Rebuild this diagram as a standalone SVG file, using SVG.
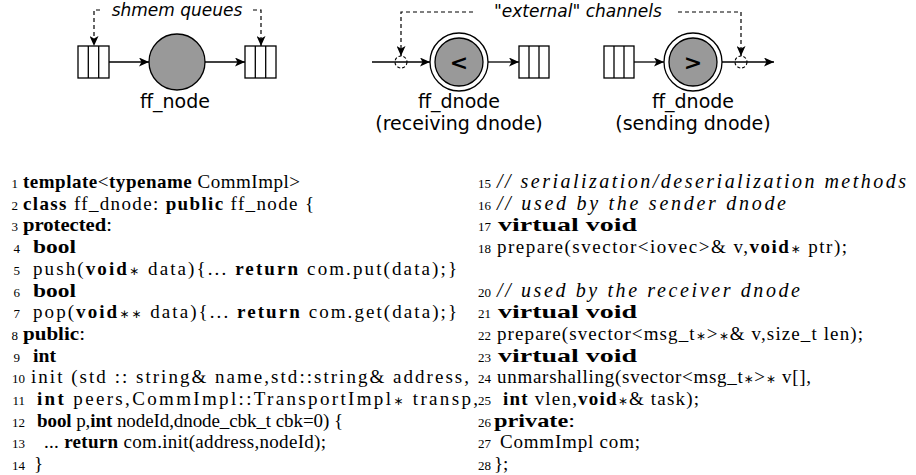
<svg xmlns="http://www.w3.org/2000/svg" width="916" height="475" viewBox="0 0 916 475">
<style>
.ln{fill:none;stroke:#000;stroke-width:1.3}
.dash{fill:none;stroke:#000;stroke-width:1.2;stroke-dasharray:4,3}
.q{fill:#fff;stroke:#000;stroke-width:1.3}
.node{fill:#999;stroke:#000;stroke-width:1.3}
.ring{fill:#fff;stroke:#000;stroke-width:1.3}
.port{fill:none;stroke:#000;stroke-width:1.1;stroke-dasharray:3,2}
.lbl{font-family:"DejaVu Sans",sans-serif;font-size:19px;fill:#000;text-anchor:middle}
.it{font-family:"DejaVu Sans",sans-serif;font-size:17px;font-style:italic;fill:#000}
.sym{font-family:"DejaVu Sans",sans-serif;font-size:22px;font-weight:bold;fill:#000;text-anchor:middle}
.code{font-family:"Liberation Serif","Times New Roman",serif;font-size:19px;fill:#000}
.cm{font-family:"Liberation Serif","Times New Roman",serif;font-size:20px;font-style:italic;fill:#000}
.num{font-family:"Liberation Serif","Times New Roman",serif;font-size:13px;fill:#000;text-anchor:end}
.b{font-weight:bold}
.ast{font-family:"DejaVu Sans",sans-serif;font-size:12px;font-weight:normal}
</style>
<defs>
<marker id="ah" markerWidth="11" markerHeight="9" refX="10" refY="4.5" orient="auto" markerUnits="userSpaceOnUse">
<path d="M0,0 L10,4.5 L0,9 L2.5,4.5 z" fill="#000"/>
</marker>
</defs>

<g id="connectors">
<path class="ln" d="M109,62 H149" marker-end="url(#ah)"/>
<path class="ln" d="M205,62 H245" marker-end="url(#ah)"/>
<path class="dash" d="M100,10 H94 V46" marker-end="url(#ah)"/>
<path class="dash" d="M253,10 H261 V46" marker-end="url(#ah)"/>
<path class="ln" d="M372,62 H430" marker-end="url(#ah)"/>
<path class="ln" d="M488,62 H519" marker-end="url(#ah)"/>
<path class="dash" d="M473,12 H401 V56" marker-end="url(#ah)"/>
<path class="ln" d="M633,62 H664" marker-end="url(#ah)"/>
<path class="ln" d="M722,62 H774" marker-end="url(#ah)"/>
<path class="dash" d="M678,12 H741 V56" marker-end="url(#ah)"/>
</g>

<g id="queue-in">
<rect class="q" x="78" y="46" width="31" height="32"/>
<path class="ln" d="M88.3,46 V78 M98.7,46 V78"/>
</g>
<g id="ff-node">
<circle class="node" cx="177" cy="62" r="28"/>
<text class="lbl" x="175" y="108">ff_node</text>
</g>
<g id="queue-out">
<rect class="q" x="245" y="46" width="31" height="32"/>
<path class="ln" d="M255.3,46 V78 M265.7,46 V78"/>
</g>
<g id="shmem-label">
<text class="it" x="177" y="16" text-anchor="middle">shmem queues</text>
</g>

<g id="recv-port">
<circle class="port" cx="401" cy="62" r="6"/>
</g>
<g id="recv-dnode">
<circle class="ring" cx="459" cy="62" r="29"/>
<circle class="node" cx="459" cy="62" r="24"/>
<text class="sym" x="459" y="70">&lt;</text>
<text class="lbl" x="459" y="108">ff_dnode</text>
<text class="lbl" x="459" y="130">(receiving dnode)</text>
</g>
<g id="recv-queue">
<rect class="q" x="519" y="46" width="30" height="32"/>
<path class="ln" d="M529,46 V78 M539,46 V78"/>
</g>
<g id="external-label">
<text x="494" y="17" style="font-family:'DejaVu Sans',sans-serif;font-size:17px;fill:#000">"<tspan font-style="italic">external</tspan>" <tspan font-style="italic">channels</tspan></text>
</g>
<g id="send-queue">
<rect class="q" x="604" y="46" width="30" height="32"/>
<path class="ln" d="M614,46 V78 M624,46 V78"/>
</g>
<g id="send-dnode">
<circle class="ring" cx="693" cy="62" r="29"/>
<circle class="node" cx="693" cy="62" r="24"/>
<text class="sym" x="693" y="70">&gt;</text>
<text class="lbl" x="693" y="108">ff_dnode</text>
<text class="lbl" x="693" y="130">(sending dnode)</text>
</g>
<g id="send-port">
<circle class="port" cx="741" cy="62" r="6"/>
</g>

<g id="code-left">
<text class="num" x="18" y="188">1</text>
<text class="code" x="23" y="188" textLength="277" lengthAdjust="spacing"><tspan class="b">template</tspan>&lt;<tspan class="b">typename</tspan> CommImpl&gt;</text>
<text class="num" x="18" y="209.7">2</text>
<text class="code" x="23" y="209.7" textLength="291" lengthAdjust="spacing"><tspan class="b">class</tspan> ff_dnode:  <tspan class="b">public</tspan> ff_node {</text>
<text class="num" x="18" y="231.4">3</text>
<text class="code" x="23" y="231.4" textLength="89" lengthAdjust="spacingAndGlyphs"><tspan class="b">protected</tspan>:</text>
<text class="num" x="20" y="253.1">4</text>
<text class="code b" x="33" y="253.1" textLength="43" lengthAdjust="spacingAndGlyphs">bool</text>
<text class="num" x="20" y="274.8">5</text>
<text class="code" x="33" y="274.8" textLength="424" lengthAdjust="spacing">push(<tspan class="b">void</tspan><tspan class="ast">∗</tspan> data){... <tspan class="b">return</tspan> com.put(data);}</text>
<text class="num" x="20" y="296.5">6</text>
<text class="code b" x="33" y="296.5" textLength="43" lengthAdjust="spacingAndGlyphs">bool</text>
<text class="num" x="20" y="318.2">7</text>
<text class="code" x="33" y="318.2" textLength="424" lengthAdjust="spacing">pop(<tspan class="b">void</tspan><tspan class="ast">∗∗</tspan> data){... <tspan class="b">return</tspan> com.get(data);}</text>
<text class="num" x="18" y="339.9">8</text>
<text class="code" x="23" y="339.9" textLength="62" lengthAdjust="spacingAndGlyphs"><tspan class="b">public</tspan>:</text>
<text class="num" x="20" y="361.6">9</text>
<text class="code b" x="33" y="361.6" textLength="23" lengthAdjust="spacingAndGlyphs">int</text>
<text class="num" x="25" y="383.3">10</text>
<text class="code" x="31" y="383.3" textLength="438" lengthAdjust="spacing">init (std :: string&amp; name,std::string&amp; address,</text>
<text class="num" x="25" y="405">11</text>
<text class="code" x="37" y="405" textLength="441" lengthAdjust="spacing"><tspan class="b">int</tspan> peers,CommImpl::TransportImpl<tspan class="ast">∗</tspan> transp,</text>
<text class="num" x="25" y="426.7">12</text>
<text class="code" x="37" y="426.7" textLength="306" lengthAdjust="spacing"><tspan class="b">bool</tspan> p,<tspan class="b">int</tspan> nodeId,dnode_cbk_t cbk=0) {</text>
<text class="num" x="25" y="448.4">13</text>
<text class="code" x="44" y="448.4" textLength="282" lengthAdjust="spacing">...  <tspan class="b">return</tspan> com.init(address,nodeId);</text>
<text class="num" x="25" y="470">14</text>
<text class="code" x="34" y="470">}</text>
</g>

<g id="code-right">
<text class="num" x="491" y="188">15</text>
<text class="cm" x="497" y="188" textLength="409" lengthAdjust="spacing">// serialization/deserialization  methods</text>
<text class="num" x="491" y="209.7">16</text>
<text class="cm" x="497" y="209.7" textLength="289" lengthAdjust="spacing">// used by the sender dnode</text>
<text class="num" x="491" y="231.4">17</text>
<text class="code b" x="498" y="231.4" textLength="139" lengthAdjust="spacingAndGlyphs">virtual void</text>
<text class="num" x="491" y="253.1">18</text>
<text class="code" x="497" y="253.1" textLength="350" lengthAdjust="spacing">prepare(svector&lt;iovec&gt;&amp; v,<tspan class="b">void</tspan><tspan class="ast">∗</tspan> ptr);</text>
<text class="num" x="491" y="296.5">20</text>
<text class="cm" x="497" y="296.5" textLength="303" lengthAdjust="spacing">// used by the receiver dnode</text>
<text class="num" x="491" y="318.2">21</text>
<text class="code b" x="498" y="318.2" textLength="139" lengthAdjust="spacingAndGlyphs">virtual void</text>
<text class="num" x="491" y="339.9">22</text>
<text class="code" x="497" y="339.9" textLength="366" lengthAdjust="spacing">prepare(svector&lt;msg_t<tspan class="ast">∗</tspan>&gt;<tspan class="ast">∗</tspan>&amp; v,size_t len);</text>
<text class="num" x="491" y="361.6">23</text>
<text class="code b" x="498" y="361.6" textLength="139" lengthAdjust="spacingAndGlyphs">virtual void</text>
<text class="num" x="491" y="383.3">24</text>
<text class="code" x="497" y="383.3" textLength="314" lengthAdjust="spacing">unmarshalling(svector&lt;msg_t<tspan class="ast">∗</tspan>&gt;<tspan class="ast">∗</tspan> v[],</text>
<text class="num" x="491" y="405">25</text>
<text class="code" x="503" y="405" textLength="196" lengthAdjust="spacing"><tspan class="b">int</tspan> vlen,<tspan class="b">void</tspan><tspan class="ast">∗</tspan>&amp; task);</text>
<text class="num" x="491" y="426.7">26</text>
<text class="code" x="494" y="426.7" textLength="81" lengthAdjust="spacingAndGlyphs"><tspan class="b">private</tspan>:</text>
<text class="num" x="491" y="448.4">27</text>
<text class="code" x="500" y="448.4" textLength="140" lengthAdjust="spacing">CommImpl com;</text>
<text class="num" x="491" y="470">28</text>
<text class="code" x="494" y="470">};</text>
</g>
</svg>
